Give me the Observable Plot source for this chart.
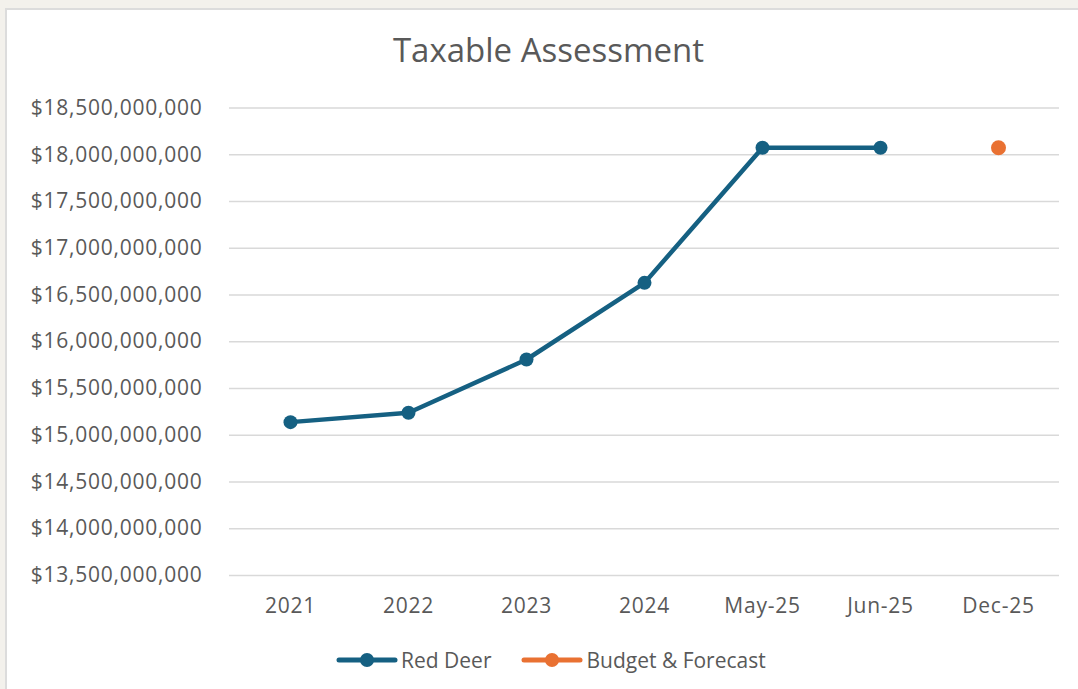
<!DOCTYPE html>
<html>
<head>
<meta charset="utf-8">
<script src="https://cdn.jsdelivr.net/npm/d3@7"></script>
<script src="https://cdn.jsdelivr.net/npm/@observablehq/plot@0.6"></script>
<style>
  html, body { margin: 0; padding: 0; background: #f3f1ec; width: 1078px; height: 689px; overflow: hidden; }
  #panel { position: absolute; left: 5px; top: 8px; width: 1200px; height: 800px; background: #fff; border: 2px solid #dcdcdc; box-sizing: border-box; }
  #title { position: absolute; left: 0; width: 1097px; top: 30px; text-align: center; font-family: "Open Sans", sans-serif; font-size: 33px; color: #595959; line-height: 1.2; }
  #chart { position: absolute; left: 0; top: 0; }
  #chart text { letter-spacing: 0.75px; }
  #legend { position: absolute; top: 646px; left: 336px; display: flex; align-items: center; font-family: "Open Sans", sans-serif; font-size: 21px; color: #595959; }
  #legend .item { display: flex; align-items: center; margin-right: 30px; }
  #legend svg { margin-right: 3px; }
</style>
</head>
<body>
<div id="panel"></div>
<div id="title">Taxable Assessment</div>
<div id="chart"></div>
<div id="legend"></div>
<script>
const categories = ["2021", "2022", "2023", "2024", "May-25", "Jun-25", "Dec-25"];
const redDeerCats = ["2021", "2022", "2023", "2024", "May-25", "Jun-25"];
const redDeerValues = [15.14e9, 15.24e9, 15.81e9, 16.63e9, 18.075e9, 18.075e9];
const budgetCats = ["Dec-25"];
const budgetValues = [18.075e9];
const yTicks = [13.5e9, 14e9, 14.5e9, 15e9, 15.5e9, 16e9, 16.5e9, 17e9, 17.5e9, 18e9, 18.5e9];
const seriesNames = ["Red Deer", "Budget & Forecast"];
const seriesColors = ["#156082", "#E97132"];

const redDeer = redDeerCats.map((c, i) => ({cat: c, value: redDeerValues[i]}));
const budget = budgetCats.map((c, i) => ({cat: c, value: budgetValues[i]}));

const fmt = d => "$" + d3.format(",")(d);

const chart = Plot.plot({
  width: 1078,
  height: 689,
  marginLeft: 229,
  marginRight: 19,
  marginTop: 107.6,
  marginBottom: 114.1,
  style: { fontFamily: "Open Sans, sans-serif", fontSize: "21px", color: "#595959", background: "transparent" },
  x: { type: "point", domain: categories, padding: 0.5, label: null, tickSize: 0, tickPadding: 23 },
  y: { domain: [13.5e9, 18.5e9], ticks: yTicks, tickFormat: fmt, label: null, tickSize: 0, tickPadding: 27 },
  marks: [
    Plot.gridY(yTicks, { stroke: "#d9d9d9", strokeOpacity: 1, strokeWidth: 1.5 }),
    Plot.axisY({ ticks: yTicks, tickFormat: fmt, tickSize: 0, tickPadding: 27, label: null, fill: "#595959" }),
    Plot.axisX({ tickSize: 0, tickPadding: 23, label: null, fill: "#595959" }),
    Plot.line(redDeer, { x: "cat", y: "value", stroke: seriesColors[0], strokeWidth: 4.5 }),
    Plot.dot(redDeer, { x: "cat", y: "value", fill: seriesColors[0], r: 7 }),
    Plot.dot(budget, { x: "cat", y: "value", fill: seriesColors[1], r: 7.5 })
  ]
});
document.getElementById("chart").appendChild(chart);

const legend = d3.select("#legend");
seriesNames.forEach((name, i) => {
  const item = legend.append("div").attr("class", "item");
  const svg = item.append("svg").attr("width", 62).attr("height", 18);
  svg.append("line").attr("x1", 3).attr("x2", 59).attr("y1", 9).attr("y2", 9)
    .attr("stroke", seriesColors[i]).attr("stroke-width", 5).attr("stroke-linecap", "round");
  svg.append("circle").attr("cx", 31).attr("cy", 9).attr("r", 7).attr("fill", seriesColors[i]);
  item.append("span").text(name);
});
</script>
</body>
</html>
